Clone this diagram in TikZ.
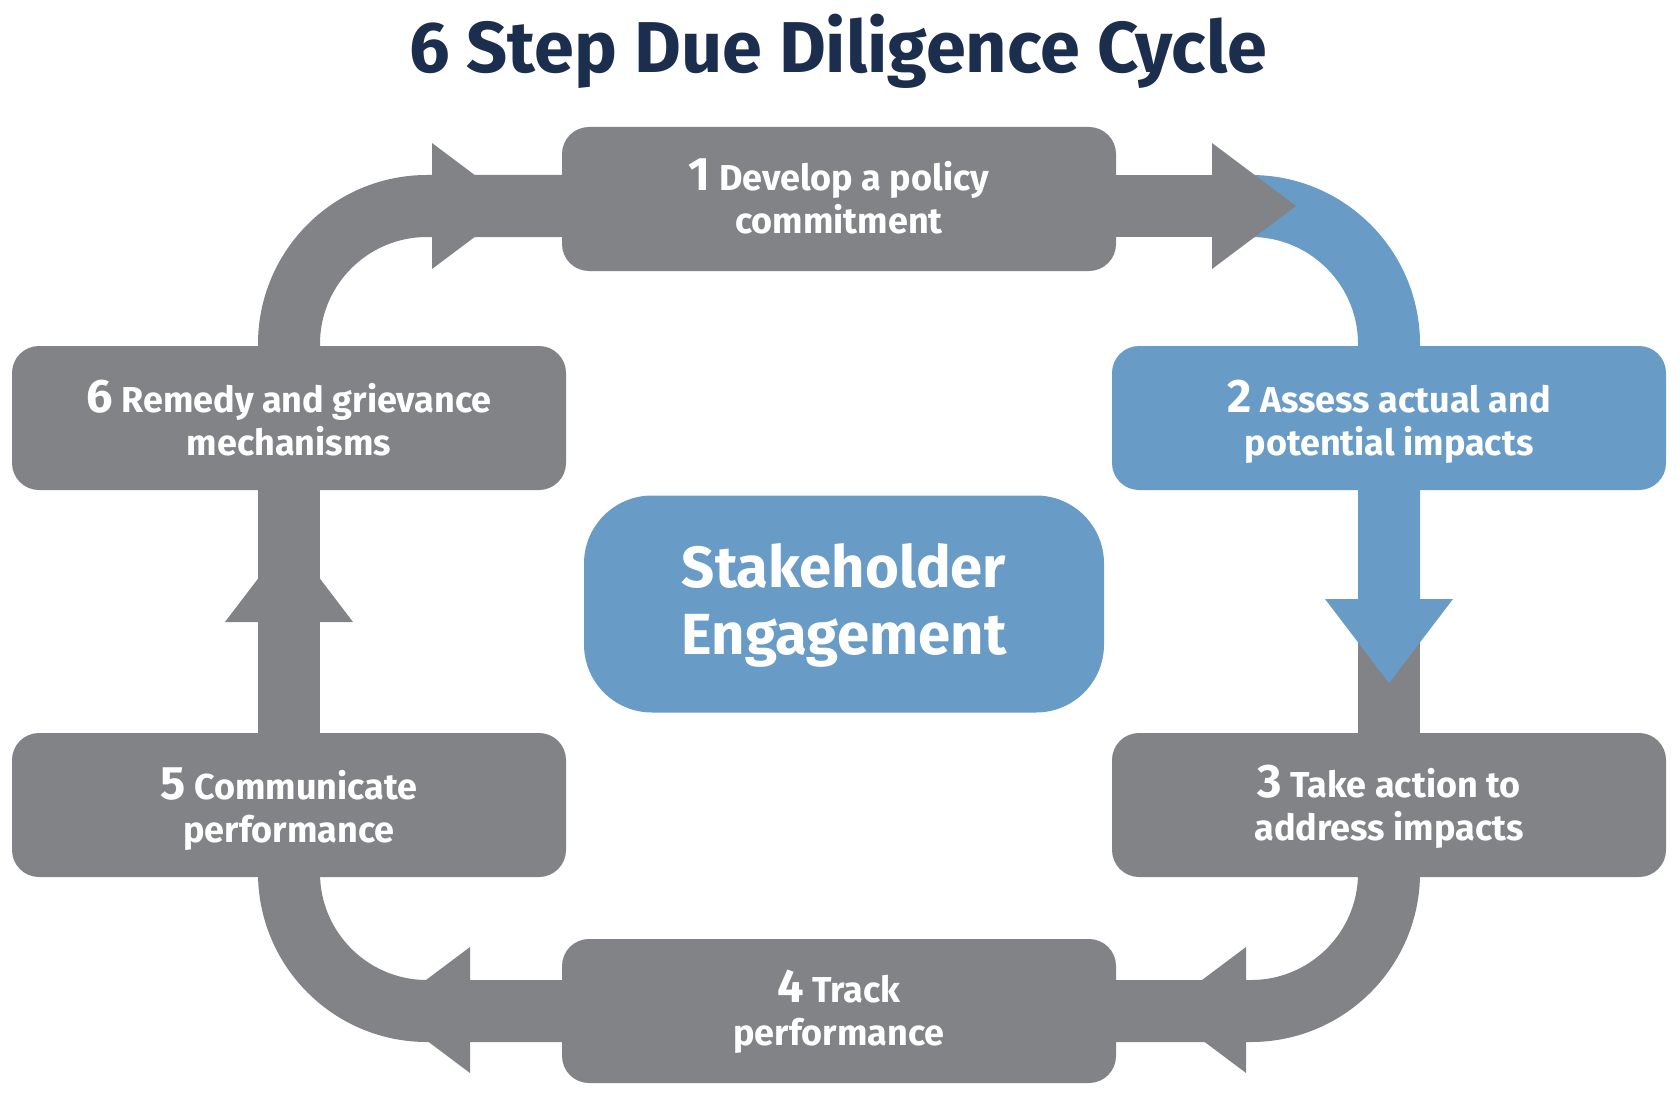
\documentclass[tikz,border=0pt]{standalone}
\usepackage{fontspec}
\setmainfont{Fira Sans}
\usetikzlibrary{backgrounds}

\definecolor{stepgray}{HTML}{828387}
\definecolor{stepblue}{HTML}{689CC7}
\definecolor{titleblue}{HTML}{1C2E4E}
\newcommand{\stepnum}[1]{{\fontsize{47pt}{43pt}\selectfont #1}}

\begin{document}
\begin{tikzpicture}[x=1pt, y=-1pt]
   \tikzstyle{band}=[draw=stepgray, line width=62pt, rounded corners=138pt]
   \tikzstyle{stepbox}=[fill=stepgray, rounded corners=27pt, minimum width=554pt, minimum height=144pt, inner sep=0pt, align=center, text=white, text depth=0pt, font=\bfseries\fontsize{36pt}{43pt}\selectfont]
   \tikzstyle{centrebox}=[fill=stepblue, rounded corners=68pt, minimum width=520pt, minimum height=217pt, inner sep=0pt, align=center, text=white, text depth=10pt, font=\bfseries\fontsize{58pt}{67pt}\selectfont]

\useasboundingbox (0,0) rectangle (1680,1094);

\node[anchor=base, text=titleblue, font=\bfseries\fontsize{72pt}{84pt}\selectfont] (title) at (838,73) {6 Step Due Diligence Cycle};

\node[stepbox, text depth=6pt] (s1) at (839,199) {\stepnum{1} Develop a policy\\commitment};
\node[stepbox, fill=stepblue] (s2) at (1389,418) {\stepnum{2} Assess actual and\\potential impacts};
\node[stepbox, text depth=4pt] (s3) at (1389,805) {\stepnum{3} Take action to\\address impacts};
\node[stepbox, text depth=6pt] (s4) at (839,1011) {\stepnum{4} Track\\performance};
\node[stepbox] (s5) at (289,805) {\stepnum{5} Communicate\\performance};
\node[stepbox] (s6) at (289,418) {\stepnum{6} Remedy and grievance\\mechanisms};
\node[centrebox] (engage) at (844,604) {Stakeholder\\Engagement};

\coordinate (b1) at (1250,206);
\coordinate (b2) at (1389,599);

\begin{scope}[on background layer]
   \draw[band] (s1.center |- b1) -- (b1);
   \draw[band, draw=stepblue] (b1) -| (b2);
   \draw[band] (b2) -- (s3.center);
   \draw[band] (s3.center) |- (s4.center);
   \draw[band] (s4.center) -| (s5.center);
   \draw[band] (s5.center) -- (s6.center);
   \draw[band] (s6.center) |- (s1.center |- b1);

   \fill[stepgray] (432,143) -- (516,206) -- (432,269) -- cycle;
   \fill[stepgray] (1212,143) -- (1296,206) -- (1212,269) -- cycle;
   \fill[stepgray] (1246,947) -- (1162,1010) -- (1246,1073) -- cycle;
   \fill[stepgray] (470,947) -- (386,1010) -- (470,1073) -- cycle;
   \fill[stepgray] (225,622) -- (289,538) -- (353,622) -- cycle;
   \fill[stepblue] (1325,599) -- (1389,683) -- (1453,599) -- cycle;
\end{scope}

\end{tikzpicture}
\end{document}
